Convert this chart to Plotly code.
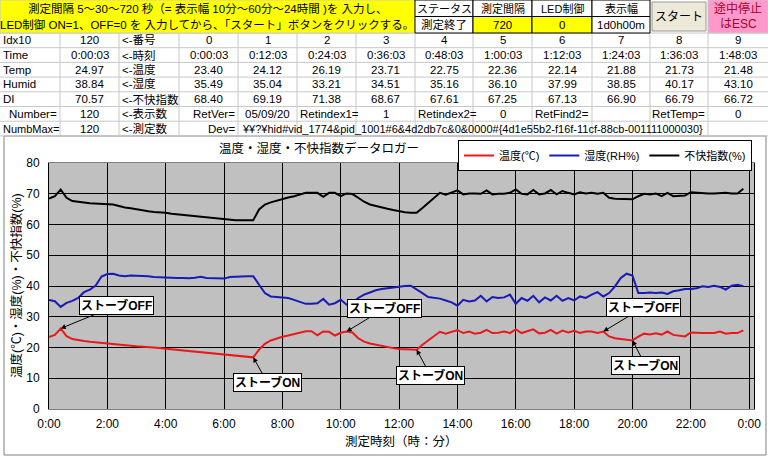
import plotly.graph_objects as go
import pandas as pd

W, H = 768, 457

# ---- data (12 min interval, 120 points) ----
temp = [23.40, 24.12, 26.19, 23.71, 22.75, 22.36, 22.14, 21.88, 21.73, 21.48,
        21.4, 21.2, 21.0, 20.8, 20.6, 20.4, 20.3, 20.1, 20.0, 19.8,
        19.6, 19.4, 19.3, 19.1, 18.9, 18.7, 18.5, 18.3, 18.1, 17.9,
        17.7, 17.5, 17.3, 17.1, 17.0, 16.8, 19.3, 21.2, 22.3, 23.0,
        23.5, 23.9, 24.4, 24.9, 25.3, 25.3, 24.0, 25.2, 25.1, 23.9,
        24.8, 25.2, 24.9, 23.0, 21.9, 21.3, 20.9, 20.5, 20.0, 19.8,
        19.5, 19.4, 19.3, 19.3, 20.9, 22.4, 23.8, 25.1, 24.5, 25.1,
        25.7, 24.7, 25.2, 24.5, 24.8, 25.7, 24.7, 24.8, 25.2, 24.7,
        25.9, 24.7, 25.2, 25.9, 24.6, 24.8, 25.7, 24.5, 25.5, 24.9,
        25.4, 24.7, 25.2, 25.2, 24.7, 25.2, 23.6, 23.0, 22.8, 22.5,
        22.3, 23.5, 24.5, 24.2, 24.6, 24.2, 25.2, 24.1, 23.9, 23.6,
        24.9, 24.7, 24.7, 24.7, 24.7, 25.2, 24.5, 24.7, 24.7, 25.6]
humid = [35.49, 35.04, 33.21, 34.51, 35.16, 36.10, 37.99, 38.85, 40.17, 43.10,
         43.9, 44.0, 43.4, 43.2, 43.4, 43.4, 43.4, 43.2, 42.9, 42.8,
         42.6, 42.6, 42.6, 42.6, 42.5, 42.7, 43.0, 42.6, 42.5, 42.5,
         42.4, 42.9, 43.1, 43.1, 43.2, 43.2, 40.4, 37.7, 36.6, 36.4,
         36.3, 36.1, 35.5, 34.8, 34.2, 34.2, 34.4, 35.8, 33.9, 34.4,
         35.5, 33.9, 34.4, 36.1, 37.2, 37.9, 38.6, 39.0, 39.3, 39.6,
         39.8, 40.0, 40.1, 39.0, 37.7, 36.4, 36.1, 35.9, 35.3, 34.7,
         33.6, 35.5, 35.0, 35.3, 36.8, 35.0, 36.4, 36.1, 36.3, 37.2,
         34.2, 36.1, 35.2, 36.8, 34.7, 36.3, 35.3, 36.8, 35.2, 36.1,
         35.3, 36.6, 36.1, 37.2, 38.0, 36.6, 37.7, 39.9, 42.6, 44.0,
         43.4, 37.7, 37.7, 37.9, 37.7, 37.9, 37.4, 38.3, 38.6, 39.0,
         39.0, 39.3, 39.9, 39.7, 40.1, 39.7, 38.8, 40.1, 40.4, 39.9]
di = [68.40, 69.19, 71.38, 68.67, 67.61, 67.25, 67.13, 66.90, 66.79, 66.72,
      66.8, 66.5, 66.0, 65.5, 65.3, 64.9, 64.7, 64.3, 64.1, 64.0,
      63.8, 63.5, 63.3, 63.0, 62.8, 62.6, 62.5, 62.3, 62.0, 61.9,
      61.8, 61.6, 61.4, 61.4, 61.4, 61.4, 64.9, 66.5, 67.2, 67.8,
      68.4, 68.8, 69.2, 69.7, 70.3, 70.3, 70.3, 69.0, 70.3, 70.3,
      69.2, 70.1, 69.9, 68.7, 67.4, 66.5, 66.0, 65.4, 65.1, 64.7,
      64.3, 64.0, 63.8, 63.8, 65.4, 67.1, 68.7, 70.3, 69.7, 70.3,
      71.1, 69.8, 70.1, 70.1, 70.0, 71.1, 69.8, 70.0, 70.0, 70.3,
      71.4, 70.0, 69.8, 71.2, 69.8, 70.1, 71.2, 69.8, 70.9, 70.3,
      69.8, 70.5, 70.1, 70.3, 70.0, 70.3, 68.7, 68.4, 68.4, 68.2,
      68.2, 69.2, 70.0, 69.8, 70.1, 69.2, 70.3, 69.2, 69.4, 69.4,
      70.5, 70.3, 70.1, 70.1, 70.1, 70.3, 70.3, 70.1, 70.1, 71.6]

times = pd.date_range("2000-01-01 00:00:03", periods=len(temp), freq="12min")

# stove events (index into the series)
event_idx = [2, 35, 51, 63, 95, 100]
event_txt = ["ストーブOFF", "ストーブON", "ストーブOFF", "ストーブON", "ストーブOFF", "ストーブON"]
event_off = [(56, -23), (14, 25), (38, -23), (14, 26), (40, -24), (13, 25)]

# latest reading / sheet info
now_vals = ["120", "0:00:03", "24.97", "38.84", "70.57"]
row_labels = ["Idx10", "Time", "Temp", "Humid", "DI"]
row_notes = ["<-番号", "<-時刻", "<-温度", "<-湿度", "<-不快指数"]

JP = "Liberation Sans, Noto Sans CJK JP"
FS = 11.5
col_x = [0, 60, 119, 179, 238, 297, 356, 415, 473, 532, 592, 650, 708, 768]
row_y0, row_h = 33, 14.7


def px(x):
    return x / W


def py(y):
    return 1 - y / H


shapes = []
ann = []


def rect(x0, y0, x1, y1, fill=None, line="#c8c8c8", lw=1):
    shapes.append(dict(type="rect", xref="paper", yref="paper",
                       x0=px(x0), x1=px(x1), y0=py(y1), y1=py(y0),
                       fillcolor=fill or "rgba(0,0,0,0)",
                       line=dict(color=line, width=lw), layer="above"))


def text(x, y, s, anchor="center", size=FS, color="black"):
    ann.append(dict(xref="paper", yref="paper", x=px(x), y=py(y), text=s,
                    showarrow=False, xanchor=anchor, yanchor="middle",
                    font=dict(family=JP, size=size, color=color)))


def cell_text(c, r, s, align="center"):
    x0, x1 = col_x[c], col_x[c + 1]
    yc = row_y0 + row_h * r + row_h / 2
    if align == "left":
        text(x0 + 1, yc, s, "left")
    elif align == "right":
        text(x1 - 1, yc, s, "right")
    else:
        text((x0 + x1) / 2, yc, s)


# sheet grid
for r in range(8):
    y = row_y0 + row_h * r
    shapes.append(dict(type="line", xref="paper", yref="paper", x0=0, x1=1,
                       y0=py(y), y1=py(y), line=dict(color="#c8c8c8", width=1)))
for x in col_x[1:-1]:
    shapes.append(dict(type="line", xref="paper", yref="paper", x0=px(x), x1=px(x),
                       y0=py(row_y0), y1=py(row_y0 + row_h * 7),
                       line=dict(color="#c8c8c8", width=1)))

# instruction cell
rect(0, 0, 415, 33, fill="#ffff00")
text(207, 8.5, "測定間隔 5～30～720 秒（= 表示幅 10分～60分～24時間 )を 入力し、", size=11.5)
text(207, 24.5, "LED制御 ON=1、OFF=0 を 入力してから、「スタート」ボタンをクリックする。", size=11.5)

# status block
heads = ["ステータス", "測定間隔", "LED制御", "表示幅"]
vals = ["測定終了", "720", "0", "1d0h00m"]
fills = ["white", "#ffff00", "#ffff00", "white"]
for k in range(4):
    x0, x1 = col_x[7 + k], col_x[8 + k]
    rect(x0, 0, x1, 16.5, fill="white", line="black")
    rect(x0, 16.5, x1, 33, fill=fills[k], line="black")
    text((x0 + x1) / 2, 8.5, heads[k], size=11)
    text((x0 + x1) / 2, 25, vals[k], size=11.5)

# start button and ESC cell
rect(652, 2, 706, 31, fill="#ece9d8", line="#9a9a9a")
text(679, 16.5, "スタート", size=12)
rect(708, 0, 768, 33, fill="#ff99cc", line="#c8c8c8")
text(738, 8.5, "途中停止", size=12, color="#a8002a")
text(738, 24.5, "はESC", size=12, color="#a8002a")

# data rows
for r in range(5):
    cell_text(0, r, row_labels[r], "left")
    cell_text(1, r, now_vals[r])
    cell_text(2, r, row_notes[r], "left")
for i in range(10):
    t = times[i]
    cell_text(3 + i, 0, str(i))
    cell_text(3 + i, 1, f"{t.hour}:{t.minute:02d}:{t.second:02d}")
    cell_text(3 + i, 2, f"{temp[i]:.2f}")
    cell_text(3 + i, 3, f"{humid[i]:.2f}")
    cell_text(3 + i, 4, f"{di[i]:.2f}")

cell_text(0, 5, "Number=", "right")
cell_text(1, 5, "120")
cell_text(2, 5, "<-表示数", "left")
cell_text(3, 5, "RetVer=", "right")
cell_text(4, 5, "05/09/20")
cell_text(5, 5, "Retindex1=", "left")
cell_text(6, 5, "1")
cell_text(7, 5, "Retindex2=", "left")
cell_text(8, 5, "0")
cell_text(9, 5, "RetFind2=", "left")
cell_text(11, 5, "RetTemp=", "right")
cell_text(12, 5, "0")
text(1, row_y0 + row_h * 6.5, "NumbMax=", "left", size=11)
cell_text(1, 6, "120")
cell_text(2, 6, "<-測定数", "left")
cell_text(3, 6, "Dev=", "right")
text(240, row_y0 + row_h * 6.5,
     "¥¥?¥hid#vid_1774&pid_1001#6&4d2db7c&0&0000#{4d1e55b2-f16f-11cf-88cb-001111000030}",
     "left", size=11)

# chart area frame
shapes.append(dict(type="rect", xref="paper", yref="paper", x0=px(4), x1=px(766),
                   y0=py(455), y1=py(136), line=dict(color="#808080", width=1),
                   fillcolor="rgba(0,0,0,0)", layer="below"))

# chart titles
text(319, 148, "温度・湿度・不快指数データロガー", size=12.5)
text(401, 442, "測定時刻（時：分）", size=12.5)
ann.append(dict(xref="paper", yref="paper", x=px(16), y=py(286), xanchor="center", yanchor="middle",
                text="温度(℃)・湿度(%)・不快指数(%)", showarrow=False, textangle=-90,
                font=dict(family=JP, size=12.5, color="black")))

# stove annotations
for k, i in enumerate(event_idx):
    ann.append(dict(x=times[i], y=temp[i], xref="x", yref="y", text=event_txt[k],
                    showarrow=True, arrowhead=2, arrowsize=1, arrowwidth=1, arrowcolor="black",
                    ax=event_off[k][0], ay=event_off[k][1],
                    bgcolor="white", bordercolor="black", borderwidth=1, borderpad=1,
                    font=dict(family=JP, size=12, color="black", weight="bold")))

fig = go.Figure()
fig.add_trace(go.Scatter(x=times, y=temp, mode="lines", name="温度(℃)",
                         line=dict(color="#e8191c", width=2)))
fig.add_trace(go.Scatter(x=times, y=humid, mode="lines", name="湿度(RH%)",
                         line=dict(color="#1a1ab4", width=2)))
fig.add_trace(go.Scatter(x=times, y=di, mode="lines", name="不快指数(%)",
                         line=dict(color="black", width=2)))

fig.update_layout(
    width=W, height=H, margin=dict(l=0, r=0, t=0, b=0, pad=0),
    paper_bgcolor="white", plot_bgcolor="#c0c0c0",
    font=dict(family=JP, size=12, color="black"),
    showlegend=True,
    legend=dict(orientation="h", x=px(752), y=py(140), xanchor="right", yanchor="top",
                bgcolor="white", bordercolor="black", borderwidth=1,
                font=dict(family=JP, size=11), itemwidth=30, tracegroupgap=0),
    xaxis=dict(domain=[px(49), px(754)], type="date", automargin=False,
               range=["2000-01-01 00:00:00", "2000-01-02 00:10:00"],
               tick0="2000-01-01 00:00:00", dtick=2 * 3600 * 1000, tickformat="%-H:%M",
               showgrid=True, gridcolor="black", gridwidth=1,
               showline=True, linecolor="#808080", mirror=True,
               ticks="", ticklabelstandoff=4, tickfont=dict(size=12), zeroline=False),
    yaxis=dict(domain=[py(409), py(163)], range=[0, 80], dtick=10, automargin=False,
               showgrid=True, gridcolor="black", gridwidth=1,
               showline=True, linecolor="black", mirror=True,
               ticks="", ticklabelstandoff=6, tickfont=dict(size=12), zeroline=False),
    shapes=shapes, annotations=ann,
)

fig.write_html("out.html", config={"displayModeBar": False},
               post_script="document.body.style.margin='0';")
